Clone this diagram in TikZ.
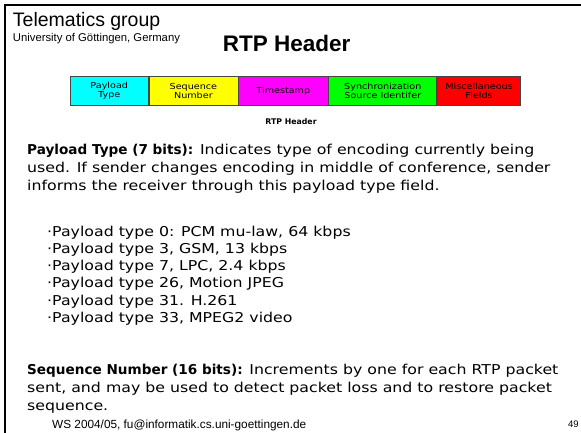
\documentclass[tikz,border=0pt]{standalone}
\usepackage{fontspec}
\setmainfont{Liberation Sans}
\newfontfamily\bodyfont[FakeStretch=1.16]{DejaVu Sans}
\newfontfamily\leadfont{DejaVu Sans}
\newcommand{\leadin}[1]{{\leadfont\bfseries #1}}
\definecolor{fcyan}{RGB}{0,255,255}
\definecolor{fyellow}{RGB}{255,255,0}
\definecolor{fmagenta}{RGB}{255,0,255}
\definecolor{fgreen}{RGB}{0,255,0}
\definecolor{fred}{RGB}{255,0,0}
\definecolor{cellline}{RGB}{70,70,70}
\tikzset{
  field/.style={draw=cellline, line width=0.8pt, minimum height=29pt, inner sep=0pt, align=center,
    font=\bodyfont\fontsize{8.3}{9.6}\selectfont, text=black},
  bodyline/.style={anchor=base west, inner sep=0pt, font=\bodyfont\fontsize{13.6}{15}\selectfont},
}
\begin{document}
\begin{tikzpicture}[x=1pt,y=-1pt]
\useasboundingbox (0,0) rectangle (581,433);
\fill[white] (0,0) rectangle (581,433);
% slide frame: top and left edges
\draw[line width=2.4pt] (4.7,433) -- (4.7,5) -- (581,5);

% header block
\node[anchor=base west, inner sep=0pt, font=\fontsize{19.5}{22}\selectfont] (grp) at (12.7,26.7) {Telematics group};
\node[anchor=base west, inner sep=0pt, font=\fontsize{11.3}{13}\selectfont] (uni) at (12.7,41.7) {University of Göttingen, Germany};
\node[anchor=base west, inner sep=0pt, font=\bfseries\fontsize{22.5}{26}\selectfont] (title) at (222.7,51.5) {RTP Header};

% RTP header field bar
\node[field, fill=fcyan, minimum width=77.7pt, anchor=north west] (pt) at (70,76) {Payload\\Type};
\node[field, fill=fyellow, minimum width=89pt, anchor=north west] (sn) at (pt.north east) {Sequence\\Number};
\node[field, fill=fmagenta, minimum width=89.3pt, anchor=north west] (ts) at (sn.north east) {Timestamp};
\node[field, fill=fgreen, minimum width=108pt, anchor=north west] (ssrc) at (ts.north east) {Synchronization\\Source Identifer};
\node[field, fill=fred, minimum width=83pt, anchor=north west] (misc) at (ssrc.north east) {Miscellaneous\\Fields};
\node[anchor=base, inner sep=0pt, font=\leadfont\bfseries\fontsize{7.8}{9}\selectfont] (cap) at (291,125) {RTP Header};

% payload type description
\node[bodyline] (p1) at (27,154) {\leadin{Payload Type (7 bits):} Indicates type of encoding currently being};
\node[bodyline] (p2) at (27,172) {used. If sender changes encoding in middle of conference, sender};
\node[bodyline] (p3) at (27,190) {informs the receiver through this payload type field.};

\node[bodyline] (b1) at (47,236) {·Payload type 0: PCM mu-law, 64 kbps};
\node[bodyline] (b2) at (47,253.3) {·Payload type 3, GSM, 13 kbps};
\node[bodyline] (b3) at (47,270.6) {·Payload type 7, LPC, 2.4 kbps};
\node[bodyline] (b4) at (47,287.9) {·Payload type 26, Motion JPEG};
\node[bodyline] (b5) at (47,305.2) {·Payload type 31. H.261};
\node[bodyline] (b6) at (47,322.5) {·Payload type 33, MPEG2 video};

% sequence number description
\node[bodyline] (s1) at (27,374.5) {\leadin{Sequence Number (16 bits):} Increments by one for each RTP packet};
\node[bodyline] (s2) at (27,392.5) {sent, and may be used to detect packet loss and to restore packet};
\node[bodyline] (s3) at (27,410.5) {sequence.};

% footer
\node[anchor=base west, inner sep=0pt, font=\fontsize{11.8}{13}\selectfont] (foot) at (52,428) {WS 2004/05, fu@informatik.cs.uni-goettingen.de};
\node[anchor=base west, inner sep=0pt, font=\fontsize{9.5}{11}\selectfont] (pg) at (568,427) {49};
\end{tikzpicture}
\end{document}
